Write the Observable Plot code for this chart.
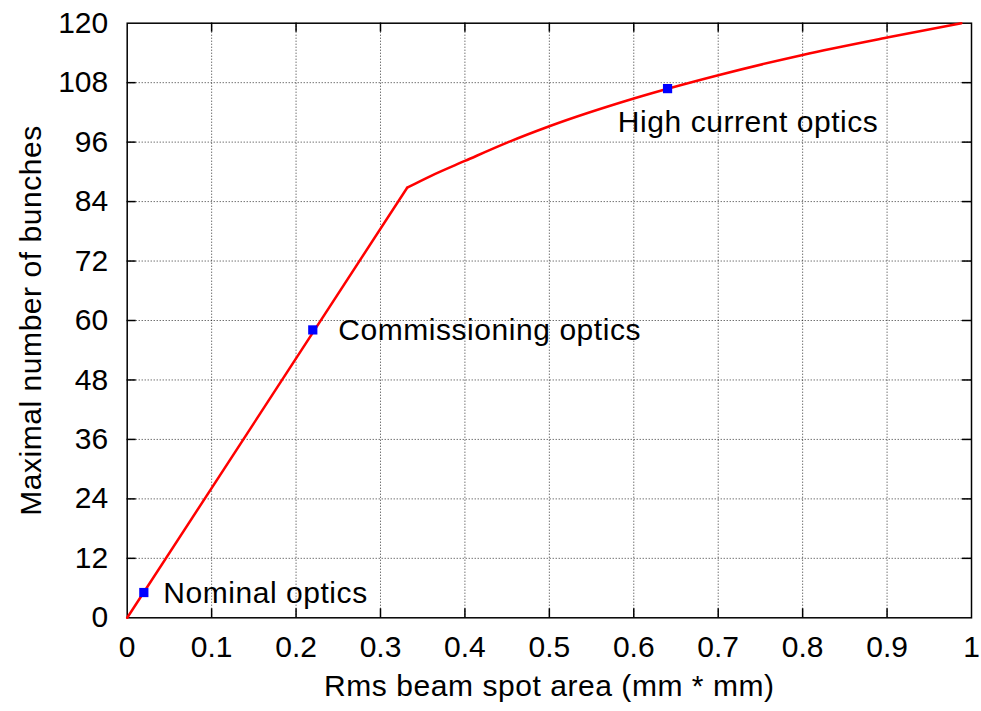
<!DOCTYPE html>
<html>
<head>
<meta charset="utf-8">
<script src="https://cdn.jsdelivr.net/npm/d3@7"></script>
<script src="https://cdn.jsdelivr.net/npm/@observablehq/plot@0.6"></script>
<style>
  html, body { margin: 0; padding: 0; background: #fff; }
  #chart svg { display: block; }
</style>
</head>
<body>
<div id="chart"></div>
<script>
// Maximal number of bunches versus rms beam spot area
const spotArea   = [0, 0.3316, 0.36, 0.4,  0.45, 0.5,  0.6,   0.7,   0.8,   0.9,   0.988];
const maxBunches = [0, 86.8,   89.2, 92.2, 95.9, 99.2, 104.8, 109.5, 113.6, 117.1, 120];
const kinkIndex = 1; // end of the straight section

// Working points of the optics
const opticsNames   = ["Nominal optics", "Commissioning optics", "High current optics"];
const opticsArea    = [0.0197, 0.2198, 0.640];
const opticsBunches = [5.1, 58.1, 106.8];

// Axis ticks and their labels
const xTicks = [0, 0.1, 0.2, 0.3, 0.4, 0.5, 0.6, 0.7, 0.8, 0.9, 1];
const xTickLabels = ["0", "0.1", "0.2", "0.3", "0.4", "0.5", "0.6", "0.7", "0.8", "0.9", "1"];
const yTicks = [0, 12, 24, 36, 48, 60, 72, 84, 96, 108, 120];
const yTickLabels = ["0", "12", "24", "36", "48", "60", "72", "84", "96", "108", "120"];

const xTitle = "Rms beam spot area (mm * mm)";
const yTitle = "Maximal number of bunches";

const curve = spotArea.map((x, i) => ({x, y: maxBunches[i]}));
const optics = opticsNames.map((name, i) => ({name, x: opticsArea[i], y: opticsBunches[i]}));

const W = 981, H = 711;
const mL = 126.7, mR = 10, mT = 22.7, mB = 93.7;
const plotW = W - mL - mR, plotH = H - mT - mB;
const tick = 9;
const font = 30;

// label placement relative to each working point (pixels)
const labelOffset = [
  {dx: 19.4, dy: 0.5},
  {dx: 25.5, dy: 0.5},
  {dx: -49.7, dy: 34}
];

const inner = xTicks.slice(1, -1);
const innerY = yTicks.slice(1, -1);
const grid = {stroke: "#000", strokeOpacity: 0.8, strokeWidth: 1, strokeDasharray: "1,2"};

const chart = Plot.plot({
  width: W,
  height: H,
  marginLeft: mL,
  marginRight: mR,
  marginTop: mT,
  marginBottom: mB,
  style: {fontFamily: "'Liberation Sans', Arial, sans-serif", fontSize: font + "px", background: "#fff", color: "#000"},
  x: {domain: [0, 1]},
  y: {domain: [0, 120]},
  marks: [
    Plot.gridX(inner, grid),
    Plot.gridY(innerY, grid),
    // inward ticks on all four sides
    Plot.ruleX(inner, {stroke: "#000", strokeWidth: 1.5, insetTop: plotH - tick}),
    Plot.ruleX(inner, {stroke: "#000", strokeWidth: 1.5, insetBottom: plotH - tick}),
    Plot.ruleY(innerY, {stroke: "#000", strokeWidth: 1.5, insetRight: plotW - tick}),
    Plot.ruleY(innerY, {stroke: "#000", strokeWidth: 1.5, insetLeft: plotW - tick}),
    Plot.axisX(xTicks, {anchor: "bottom", tickSize: 0, tickPadding: 18, label: null, fontSize: font,
      tickFormat: d => xTickLabels[xTicks.indexOf(d)]}),
    Plot.axisY(yTicks, {anchor: "left", tickSize: 0, tickPadding: 19, label: null, fontSize: font,
      tickFormat: d => yTickLabels[yTicks.indexOf(d)]}),
    Plot.frame({stroke: "#000", strokeWidth: 1.5}),
    // straight section, then the curved section
    Plot.line(curve.slice(0, kinkIndex + 1), {x: "x", y: "y", stroke: "#ff0000", strokeWidth: 2.5}),
    Plot.line(curve.slice(kinkIndex), {x: "x", y: "y", stroke: "#ff0000", strokeWidth: 2.5, curve: "monotone-x"}),
    Plot.dot(optics, {x: "x", y: "y", symbol: "square", r: 5.2, fill: "#0000ff", stroke: null}),
    ...optics.map((d, i) => Plot.text([d], {
      x: "x", y: "y", text: "name", textAnchor: "start", lineAnchor: "middle",
      dx: labelOffset[i].dx, dy: labelOffset[i].dy, fontSize: font, fill: "#000"
    })),
    Plot.text([xTitle], {frameAnchor: "bottom", textAnchor: "middle", lineAnchor: "middle", dy: 69, fontSize: font, fill: "#000"}),
    Plot.text([yTitle], {frameAnchor: "left", textAnchor: "middle", lineAnchor: "middle", rotate: -90, dx: -96, fontSize: font, fill: "#000"})
  ]
});

// slightly wider tracking on the titles and the optics labels
const spaced = new Set([xTitle, yTitle, ...opticsNames]);
d3.select(chart).selectAll("text")
  .filter(function() { return spaced.has(this.textContent); })
  .style("letter-spacing", "0.55px");

document.getElementById("chart").appendChild(chart);
</script>
</body>
</html>
